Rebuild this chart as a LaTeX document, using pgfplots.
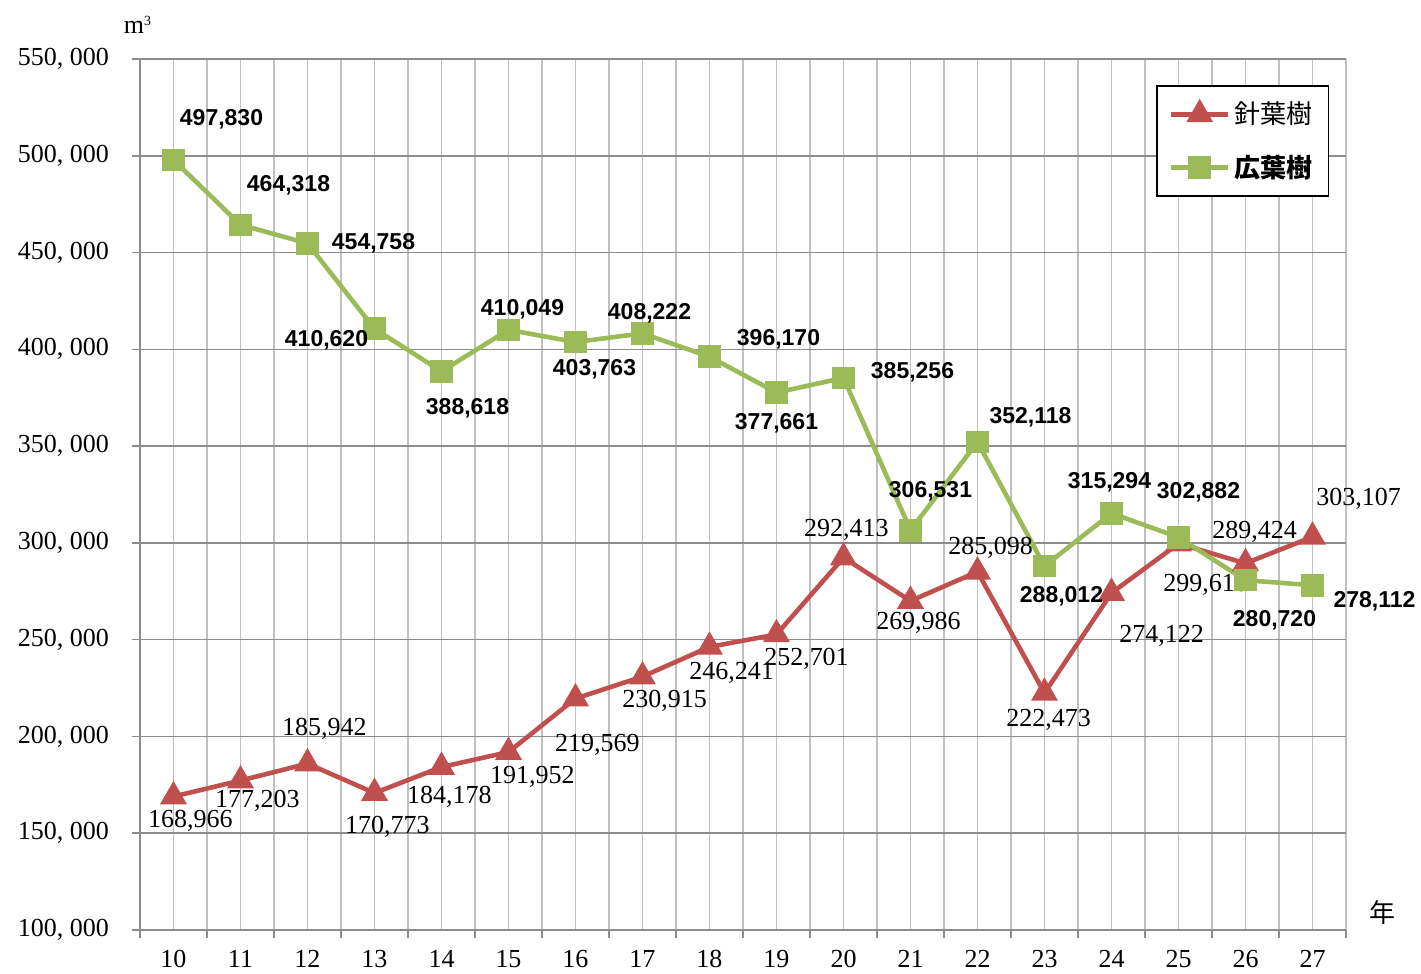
\documentclass[border=0pt]{standalone}
\usepackage{pgfplots}
\usepackage{pgfplotstable}
\pgfplotsset{compat=1.18}
\usepackage{fontspec}
\setmainfont{Liberation Serif}
\newfontfamily\sans{Liberation Sans}
\newfontfamily\cjk{Noto Sans CJK JP}
\definecolor{cred}{RGB}{192,80,77}
\definecolor{cgreen}{RGB}{155,187,89}
\definecolor{hgrid}{RGB}{140,140,140}
\definecolor{vgrid}{RGB}{192,192,192}

\pgfplotstableread{
x y dx dy label
0 168966 8.5 -12 168,966
1 177203 8.5 -10 177,203
2 185942 8.5 17.5 185,942
3 170773 6.5 -17 170,773
4 184178 4 -15 184,178
5 191952 12 -12.5 191,952
6 219569 11 -23 219,569
7 230915 11 -12 230,915
8 246241 11 -13 246,241
9 252701 15 -12 252,701
10 292413 1.5 14 292,413
11 269986 4 -11 269,986
12 285098 6.5 12 285,098
13 222473 2 -13.5 222,473
14 274122 25 -21.5 274,122
15 299618 13.5 -20.5 299,618
16 289424 4.5 15.5 289,424
17 303107 23 19 303,107
}\conifer

\pgfplotstableread{
x y dx dy label
0 497830 24 20.5 497,830
1 464318 24 20 464,318
2 454758 33 0 454,758
3 410620 -24 -5.5 410,620
4 388618 13 -18.5 388,618
5 410049 7 10.5 410,049
6 403763 9.5 -13.5 403,763
7 408222 3.5 10 408,222
8 396170 34.5 8.5 396,170
9 377661 0 -15.5 377,661
10 385256 34.5 3 385,256
11 306531 10 19.5 306,531
12 352118 26.5 12.5 352,118
13 288012 8.5 -15 288,012
14 315294 -1 15.5 315,294
15 302882 10 22.5 302,882
16 280720 14.5 -20 280,720
17 278112 31 -8 278,112
}\broad

\begin{document}
\begin{tikzpicture}
\useasboundingbox (-70pt,-22pt) rectangle (640.5pt,465pt);
\begin{axis}[
  at={(0,0)}, anchor=south west,
  scale only axis, width=603pt, height=435.5pt,
  xmin=-0.5, xmax=17.5, ymin=100000, ymax=550000,
  clip=false,
  xtick={0,...,17},
  xticklabels={10,11,12,13,14,15,16,17,18,19,20,21,22,23,24,25,26,27},
  minor xtick={-0.5,0.5,...,17.5},
  ytick={100000,150000,...,550000},
  minor ytick={100000,150000,...,550000},
  yticklabels={{100, 000},{150, 000},{200, 000},{250, 000},{300, 000},{350, 000},{400, 000},{450, 000},{500, 000},{550, 000}},
  scaled y ticks=false,
  axis lines=left,
  axis line style={-, draw=hgrid, line width=0.8pt},
  tick align=outside,
  major tick length=0pt,
  minor tick length=4pt,
  every tick/.style={draw=hgrid, line width=0.8pt},
  xmajorgrids, xminorgrids, ymajorgrids,
  x grid style={draw=vgrid, line width=0.8pt},
  y grid style={draw=hgrid, line width=0.8pt},
  /pgf/number format/assume math mode=true,
  tick label style={font=\fontsize{13}{13}\selectfont, black},
  xticklabel style={yshift=-6.5pt},
  yticklabel style={xshift=-12pt},
  legend style={at={(0.8425,0.97)}, anchor=north west, draw=black, line width=0.9pt,
    fill=white, font=\fontsize{13}{15}\selectfont, inner xsep=6pt, inner ysep=6pt,
    row sep=10pt, cells={anchor=west}},
  legend image code/.code={\draw[mark repeat=2,mark phase=2] plot coordinates {(0cm,0cm) (0.5cm,0cm) (1.0cm,0cm)};},
]
\addplot[color=cred, line width=2.3pt, mark=triangle*, mark size=5.5pt, mark options={solid},
  point meta=explicit symbolic,
  visualization depends on={\thisrow{dx} \as \dx},
  visualization depends on={\thisrow{dy} \as \dy},
  nodes near coords,
  nodes near coords style={anchor=center, xshift=\dx pt, yshift=\dy pt, black, font=\fontsize{13}{13}\selectfont, inner sep=0pt}]
  table[x=x, y=y, meta=label] {\conifer};
\addlegendentry{\cjk 針葉樹}
\addplot[color=cgreen, line width=2.3pt, mark=square*, mark size=4.5pt, mark options={solid},
  point meta=explicit symbolic,
  visualization depends on={\thisrow{dx} \as \dx},
  visualization depends on={\thisrow{dy} \as \dy},
  nodes near coords,
  nodes near coords style={anchor=center, xshift=\dx pt, yshift=\dy pt, black, font=\sans\bfseries\fontsize{11.5}{11.5}\selectfont, inner sep=0pt}]
  table[x=x, y=y, meta=label] {\broad};
\addlegendentry{\cjk\bfseries 広葉樹}
\end{axis}
\node[font=\fontsize{13}{13}\selectfont, inner sep=0pt] at (-1pt,452.5pt) {m\textsuperscript{\fontsize{7}{7}\selectfont 3}};
\node[font=\cjk\fontsize{13}{13}\selectfont, inner sep=0pt] at (621pt,8.5pt) {年};
\end{tikzpicture}
\end{document}
